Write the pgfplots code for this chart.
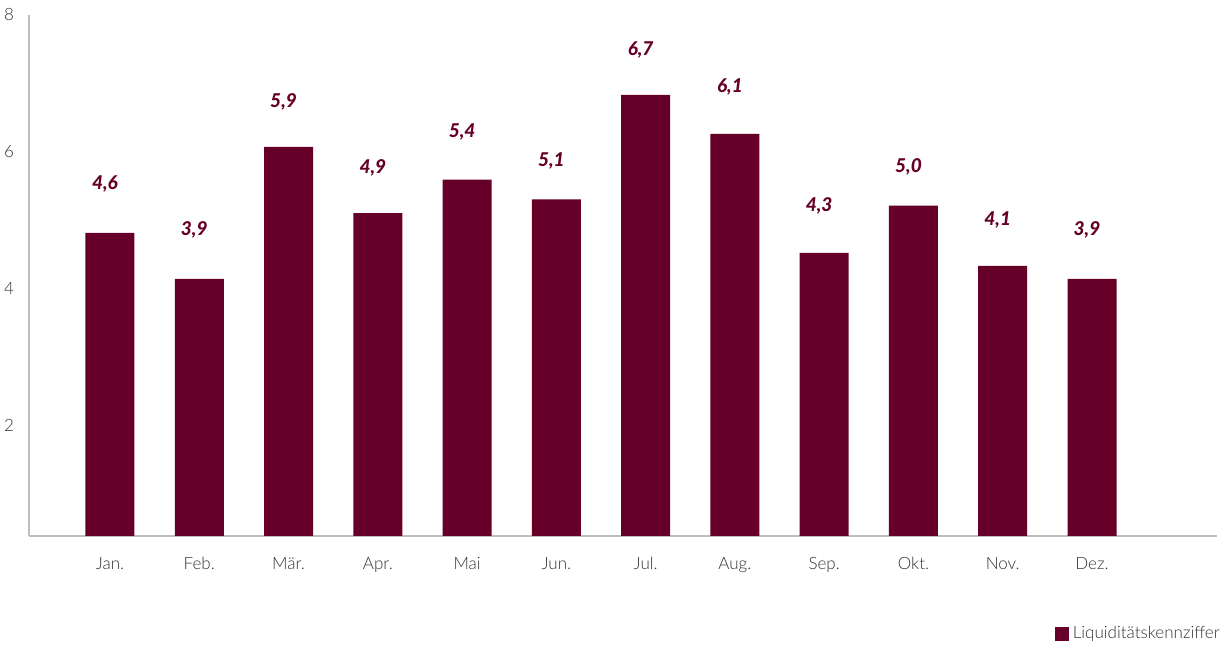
\documentclass[border=0pt]{standalone}
\usepackage{pgfplots}
\pgfplotsset{compat=1.18}
\usepackage{fontspec}
\setmainfont{Lato}[UprightFont={* Light}]
\newfontfamily\labfont{Lato Black Italic}
\definecolor{barcol}{RGB}{102,0,40}
\definecolor{txt}{RGB}{50,50,50}
\definecolor{axl}{RGB}{190,190,190}
\begin{document}
\begin{tikzpicture}
\useasboundingbox (0,0) rectangle (612.5bp,323bp);
\begin{axis}[
  at={(14.5bp,55bp)}, anchor=south west,
  scale only axis, width=594bp, height=260.5bp,
  xmin=-0.907, xmax=12.4, ymin=0.376, ymax=8,
  axis x line*=bottom, axis y line*=left,
  axis line style={axl, line width=0.8pt},
  xtick={0,...,11},
  xticklabels={Jan.,Feb.,Mär.,Apr.,Mai,Jun.,Jul.,Aug.,Sep.,Okt.,Nov.,Dez.},
  ytick={2,4,6,8},
  major tick length=0pt,
  /pgf/number format/assume math mode=true,
  tick label style={font=\fontsize{8.5bp}{10bp}\selectfont, text=txt},
  xticklabel style={anchor=center, text height=1.6ex, text depth=0.4ex, yshift=-14bp},
  yticklabel style={anchor=east, xshift=-4bp},
  legend style={at={(1.006,-0.188)}, anchor=east, draw=none, fill=none,
    font=\fontsize{8.5bp}{10bp}\selectfont, text=txt, inner sep=0pt,
    legend cell align=left},
  legend image code/.code={\fill[barcol] (0bp,-3.5bp) rectangle (7bp,3.5bp);},
]
\addplot[ybar, bar width=24.5bp, fill=barcol, draw=none] table {
x y
0 4.81
1 4.14
2 6.07
3 5.10
4 5.59
5 5.30
6 6.83
7 6.26
8 4.52
9 5.21
10 4.33
11 4.14
};
\addlegendentry{Liquiditätskennziffer}
\addplot[draw=none, mark=none, forget plot,
  point meta=explicit symbolic,
  nodes near coords={\pgfplotspointmeta},
  every node near coord/.append style={anchor=center, xshift=-2.5bp,
    font=\labfont\fontsize{9.5bp}{11bp}\selectfont, text=barcol}]
 table[meta=lab] {
x y lab
0 5.531 {4,6}
1 4.858 {3,9}
2 6.722 {5,9}
3 5.756 {4,9}
4 6.288 {5,4}
5 5.868 {5,1}
6 7.492 {6,7}
7 6.942 {6,1}
8 5.205 {4,3}
9 5.771 {5,0}
10 4.996 {4,1}
11 4.854 {3,9}
};
\end{axis}
\end{tikzpicture}
\end{document}
